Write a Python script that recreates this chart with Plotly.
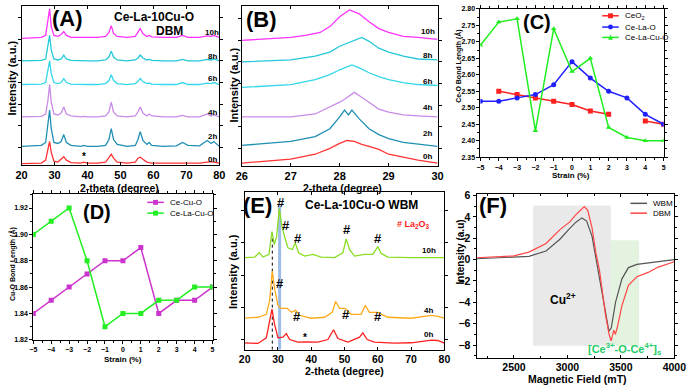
import plotly.graph_objects as go

W, H = 698, 388
FONT = "Liberation Sans"

# ---------------- (A) Ce-La-10Cu-O DBM : stacked XRD patterns
two_theta_a = [20, 23, 26, 27.3, 28.0, 28.5, 29.0, 29.8, 31.0, 32.0, 32.8, 33.6, 35.0, 38.0,
               38.8, 40.0, 43.0, 45.5, 46.5, 47.2, 47.9, 49.0, 52.0, 54.5, 55.3, 56.0, 56.8,
               58.0, 58.7, 59.5, 63.0, 67.0, 68.8, 70.5, 74.0, 76.3, 77.5, 78.3, 80.0]
xrd_a_0h = [1.5, 1.5, 2, 5, 15, 24, 13, 4, 3, 6, 8.5, 5, 2.5, 2, 3, 2, 2, 3, 8, 11, 7, 3, 2, 3,
            7, 8, 6, 3, 2.5, 2, 2, 2, 2.5, 2, 2, 3, 3.5, 3, 2]
xrd_a_2h = [19, 19.5, 20, 23, 40, 56, 37, 23, 22, 24, 31, 23, 20, 19, 20, 19, 19, 20, 26, 37, 26,
            21, 19, 20, 26, 34, 25, 21, 23, 20, 19, 19.5, 23, 20, 19.5, 25, 22, 24, 19]
xrd_a_4h = [49, 49, 49.5, 52, 66, 82, 64, 52, 51, 53, 59, 52, 50, 49, 49.5, 49, 49, 50, 54, 64,
            54, 50, 49, 50, 54, 59, 53, 50, 52, 50, 49, 49, 50.5, 49, 49, 52, 50, 51, 49]
xrd_a_6h = [82, 82, 82.5, 84, 95, 106, 93, 84, 83, 84, 88, 84, 82.5, 82, 82.5, 82, 82, 83, 86,
            92, 86, 83, 82, 83, 85, 88, 85, 83, 83.5, 82.5, 82, 82, 84, 82, 82, 83.5, 83, 84, 82]
xrd_a_8h = [106, 106, 106.5, 108, 120, 132, 117, 108, 107, 108, 112, 108, 106.5, 106, 106.5,
            106, 106, 107, 110, 116, 110, 107, 106, 107, 109, 112, 109, 107, 107.5, 106.5, 106,
            106, 107.5, 106, 106, 107.5, 107, 108, 106]
xrd_a_10h = [129, 129.5, 130, 132, 146, 159, 141, 132, 131, 133, 136, 132, 130, 130, 130.5, 130,
             130, 131, 135, 142, 134, 131, 130, 131, 135, 139, 134, 131, 132, 130.5, 130, 130,
             132, 130, 130, 131.5, 131, 132, 130]

# ---------------- (B) zoom on the (111) reflection
theta_b_0h = [26.0, 27.0, 27.5, 27.8, 28.0, 28.15, 28.3, 28.45, 28.6, 28.8, 29.0, 29.3, 29.6, 30.0]
xrd_b_0h = [3, 7, 12, 18, 23, 26, 25, 22, 20, 17, 12, 9, 6, 3]
theta_b_2h = [26.0, 27.0, 27.5, 27.8, 28.0, 28.1, 28.18, 28.25, 28.4, 28.6, 28.8, 29.0, 29.3, 29.6, 30.0]
xrd_b_2h = [21, 25, 30, 38, 50, 57, 52, 57, 48, 38, 32, 28, 24, 22, 20]
theta_b_4h = [26.0, 27.0, 27.5, 27.8, 28.0, 28.1, 28.3, 28.45, 28.6, 28.8, 29.0, 29.1, 29.3, 29.6, 30.0]
xrd_b_4h = [50, 50, 53, 60, 65, 68, 75, 70, 65, 58, 55, 54, 52, 51, 50]
theta_b_6h = [26.0, 27.0, 27.5, 27.8, 28.0, 28.1, 28.25, 28.4, 28.6, 28.8, 29.0, 29.3, 29.6, 30.0]
xrd_b_6h = [80, 83, 88, 93, 98, 100, 103, 100, 95, 91, 88, 85, 83, 82]
theta_b_8h = [26.0, 27.0, 27.5, 27.8, 28.0, 28.2, 28.45, 28.6, 28.8, 29.0, 29.3, 29.6, 30.0]
xrd_b_8h = [106, 108, 112, 116, 122, 126, 131, 127, 120, 116, 112, 109, 108]
theta_b_10h = [26.0, 27.0, 27.3, 27.6, 27.8, 28.0, 28.2, 28.4, 28.6, 28.8, 29.0, 29.3, 29.6, 30.0]
xrd_b_10h = [128, 131, 133, 136, 142, 152, 159, 155, 147, 140, 136, 132, 131, 129]

# ---------------- (C) Ce-O bond length vs strain
strain = [-5, -4, -3, -2, -1, 0, 1, 2, 3, 4, 5]
ceo_ceo2 = [None, 2.55, 2.54, 2.53, 2.52, 2.51, 2.49, 2.48, None, 2.46, 2.45]
ceo_cela = [2.52, 2.52, 2.53, 2.54, 2.57, 2.64, 2.59, 2.55, 2.53, 2.48, 2.45]
ceo_celacu = [2.69, 2.76, 2.77, 2.43, 2.74, 2.61, 2.65, 2.44, 2.41, 2.40, 2.40]

# ---------------- (D) Cu-O bond length vs strain
cuo_cecu = [1.84, 1.85, 1.86, 1.87, 1.88, 1.88, 1.89, 1.84, 1.85, 1.85, 1.86]
cuo_celacu = [1.90, 1.91, 1.92, 1.88, 1.83, 1.84, 1.84, 1.85, 1.85, 1.86, 1.86]

# ---------------- (E) Ce-La-10Cu-O WBM XRD
theta_e_0h = [20, 24, 26.5, 27.5, 28.2, 28.9, 30, 31.5, 32.5, 33.5, 36, 38.5, 42, 45, 46.7, 48,
              51, 54.5, 55.5, 56.8, 59, 65, 70, 74, 76, 78, 80]
xrd_e_0h = [7, 6.3, 12, 28.7, 41.3, 27, 12, 12.7, 16.3, 10.3, 7.7, 8, 7.7, 10.3, 20.3, 11.3, 7.7,
            12.7, 17, 10.3, 7.7, 6.7, 7, 8.7, 9.7, 9.3, 6.7]
theta_e_4h = [20, 24, 26.5, 27.5, 28.3, 29, 30, 31, 32.8, 34, 35.3, 36.5, 40, 44, 46.3, 47.3,
              48.5, 50.2, 52, 55, 56.2, 57.5, 60, 63, 70, 76, 78, 80]
xrd_e_4h = [32, 33, 36, 50, 80, 62, 45, 42, 42, 38, 40, 35, 32, 33, 38, 49, 42, 42, 36, 36, 45,
            38, 38, 33, 32, 35, 34, 32]
theta_e_10h = [20, 23, 24.4, 25.5, 27.3, 28.2, 28.9, 29.6, 30.4, 31.2, 32.0, 33.0, 34.3, 35.2,
               36.2, 38, 40.5, 43, 47, 49.5, 50.5, 51.5, 53, 56, 58.5, 60, 61, 63, 70, 80]
xrd_e_10h = [93.7, 94.3, 98.7, 94.3, 97, 120.3, 107, 115, 143.7, 125.3, 115, 103.7, 102, 108.7,
             98.7, 95.3, 97, 94.3, 93.7, 98.7, 112.7, 102, 95.3, 97, 97, 105, 98, 94.3, 93.7, 93.7]
la2o3_10h = [(30.8, 150), (32.3, 126), (36.1, 113), (50.7, 122), (60.1, 113)]
la2o3_4h = [(30.5, 67), (35.8, 34), (50.4, 36), (60.1, 34)]

# ---------------- (F) EPR spectra
field_wbm = [2150, 2500, 2640, 2800, 2930, 3020, 3080, 3135, 3180, 3230, 3265, 3300, 3340, 3357,
             3388, 3410, 3450, 3510, 3571, 3650, 3755, 3850, 4000]
epr_wbm = [0.08, 0.2, 0.3, 0.8, 1.9, 2.9, 3.5, 3.9, 3.6, 2.2, 0.2, -1.5, -4.0, -4.9, -6.7, -6.4,
           -4.0, -1.8, -0.75, -0.45, -0.3, -0.15, 0.0]
field_dbm = [2150, 2500, 2640, 2800, 2930, 3020, 3080, 3158, 3190, 3230, 3265, 3300, 3357, 3390,
             3409, 3434, 3449, 3470, 3510, 3571, 3650, 3755, 3850, 4000]
epr_dbm = [0.17, 0.35, 0.7, 1.5, 2.8, 3.5, 4.2, 4.95, 4.6, 3.0, 0.7, -1.0, -5.2, -7.0, -7.6,
           -6.6, -7.0, -6.2, -4.3, -2.4, -1.6, -1.2, -0.7, -0.2]


def dom_x(left, right):
    return [left / W, right / W]


def dom_y(top, bottom):
    return [1 - bottom / H, 1 - top / H]


def axis_style(size=11, **kw):
    style = dict(showline=True, linecolor="black", linewidth=1, mirror="ticks",
                 ticks="outside", ticklen=3, tickcolor="black", showgrid=False,
                 zeroline=False,
                 tickfont=dict(family=FONT, size=size, color="black", weight="bold"))
    style.update(kw)
    return style


fig = go.Figure()

# A
for ys, color in [(xrd_a_0h, "#ff3333"), (xrd_a_2h, "#1f8fb4"), (xrd_a_4h, "#c98be8"),
                  (xrd_a_6h, "#33d6ea"), (xrd_a_8h, "#22c8d8"), (xrd_a_10h, "#ff33ff")]:
    fig.add_trace(go.Scatter(x=two_theta_a, y=ys, mode="lines", line=dict(color=color, width=1.3),
                             showlegend=False, xaxis="x", yaxis="y"))

# B
for ths, ys, color in [(theta_b_0h, xrd_b_0h, "#ff3333"), (theta_b_2h, xrd_b_2h, "#1f8fb4"),
                       (theta_b_4h, xrd_b_4h, "#c98be8"), (theta_b_6h, xrd_b_6h, "#33d6ea"),
                       (theta_b_8h, xrd_b_8h, "#22c8d8"), (theta_b_10h, xrd_b_10h, "#ff33ff")]:
    fig.add_trace(go.Scatter(x=ths, y=ys, mode="lines", line=dict(color=color, width=1.3),
                             showlegend=False, xaxis="x2", yaxis="y2"))

# C
series_c = [("CeO<sub>2</sub>", ceo_ceo2, "#ff2020", "square"),
            ("Ce-La-O", ceo_cela, "#2020ff", "circle"),
            ("Ce-La-Cu-O", ceo_celacu, "#22ee22", "triangle-up")]
for name, ys, color, sym in series_c:
    fig.add_trace(go.Scatter(x=strain, y=ys, name=name, mode="lines+markers",
                             line=dict(color=color, width=1.5),
                             marker=dict(color=color, symbol=sym, size=5),
                             showlegend=False, xaxis="x3", yaxis="y3"))

# D
series_d = [("Ce-Cu-O", cuo_cecu, "#cc33cc", "square"),
            ("Ce-La-Cu-O", cuo_celacu, "#22ee22", "square")]
for name, ys, color, sym in series_d:
    fig.add_trace(go.Scatter(x=strain, y=ys, name=name, mode="lines+markers",
                             line=dict(color=color, width=1.5),
                             marker=dict(color=color, symbol=sym, size=5),
                             showlegend=False, xaxis="x4", yaxis="y4"))

# E
for ths, ys, color in [(theta_e_0h, xrd_e_0h, "#ff2020"), (theta_e_4h, xrd_e_4h, "#ffaa1a"),
                       (theta_e_10h, xrd_e_10h, "#88dd22")]:
    fig.add_trace(go.Scatter(x=ths, y=ys, mode="lines", line=dict(color=color, width=1.3),
                             showlegend=False, xaxis="x5", yaxis="y5"))

# F
series_f = [("WBM", field_wbm, epr_wbm, "#555555"), ("DBM", field_dbm, epr_dbm, "#ff4444")]
for name, xs, ys, color in series_f:
    fig.add_trace(go.Scatter(x=xs, y=ys, name=name, mode="lines",
                             line=dict(color=color, width=1.2), showlegend=False,
                             xaxis="x6", yaxis="y6"))

shapes = [
    dict(type="rect", xref="x6", yref="y6", x0=2678, x1=3407, y0=-8.06, y1=5.07,
         fillcolor="#e9e9e9", line=dict(width=0), layer="below"),
    dict(type="rect", xref="x6", yref="y6", x0=3407, x1=3671, y0=-8.06, y1=1.8,
         fillcolor="#e4f2e0", line=dict(width=0), layer="below"),
    dict(type="line", xref="x5", yref="y5", x0=30.5, x1=30.5, y0=0, y1=147,
         line=dict(color="#9dbce8", width=3), layer="below"),
    dict(type="line", xref="x5", yref="y5", x0=28.3, x1=28.3, y0=0, y1=119,
         line=dict(color="black", width=1, dash="dot"), layer="below"),
]


def note(text, x, y, size, xref="paper", yref="paper", color="black", bold=True,
         xanchor="center", yanchor="middle", **kw):
    if xref == "paper":
        x = x / W
    if yref == "paper":
        y = 1 - y / H
    return dict(text=text, x=x, y=y, xref=xref, yref=yref, showarrow=False,
                xanchor=xanchor, yanchor=yanchor,
                font=dict(family=FONT, size=size, color=color,
                          weight="bold" if bold else "normal"), **kw)


annotations = [
    note("(A)", 63, 15, 22), note("Ce-La-10Cu-O", 152, 13, 12), note("DBM", 168, 28, 12),
    note("(B)", 262, 16, 22), note("(C)", 545, 18, 20), note("(D)", 93, 212, 20),
    note("(E)", 258, 205, 22), note("Ce-La-10Cu-O WBM", 365, 205, 12),
    note("# La<sub>2</sub>O<sub>3</sub>", 418, 225, 9, color="#ff2020"),
    note("(F)", 500, 205, 22),
    note("Cu<sup>2+</sup>", 2961, -3.65, 12, xref="x6", yref="y6"),
    note("[Ce<sup>3+</sup>-O-Ce<sup>4+</sup>]<sub>s</sub>", 3535, -8.4, 11, xref="x6",
         yref="y6", color="#22cc66"),
    note("*", 38.8, 9, 10, xref="x", yref="y"),
    note("*", 38.1, 12, 10, xref="x5", yref="y5"),
    # axis titles
    note("2-theta (degree)", 117, 187, 10.5), note("2-theta (degree)", 345, 187.5, 10.5),
    note("Strain (%)", 580, 175, 8), note("Strain (%)", 120, 362, 8),
    note("2-theta (degree)", 347, 374, 10.5), note("Magnetic Field (mT)", 587, 382, 10.5),
    note("Intensity (a.u.)", 6, 75, 11, textangle=-90),
    note("Intensity (a.u.)", 234, 82, 11, textangle=-90),
    note("Intensity (a.u.)", 233, 272, 11, textangle=-90),
    note("Intensity (a.u)", 466, 252, 10, textangle=-90),
    note("Ce-O Bond Length (Å)", 465, 63, 7, textangle=-90),
    note("Cu-O Bond Length (Å)", 6, 265, 7, textangle=-90),
]

for lab, y in [("10h", 135), ("8h", 111), ("6h", 88), ("4h", 54), ("2h", 29), ("0h", 6)]:
    annotations.append(note(lab, 77.9, y, 8, xref="x", yref="y"))
for lab, y in [("10h", 137), ("8h", 113), ("6h", 86), ("4h", 60), ("2h", 33), ("0h", 10)]:
    annotations.append(note(lab, 29.8, y, 8, xref="x2", yref="y2"))
for lab, y in [("10h", 101), ("4h", 40), ("0h", 15)]:
    annotations.append(note(lab, 75.3, y, 8, xref="x5", yref="y5"))
for x, y in la2o3_10h + la2o3_4h:
    annotations.append(note("#", x, y, 13, xref="x5", yref="y5"))


def legend_entry(text, color, symbol, tx, ty, marker=True):
    """hand-drawn legend row: short line + marker + label, in pixel coords"""
    xl0, xl1 = (tx - 21) / W, (tx - 4) / W
    yc = 1 - ty / H
    shapes.append(dict(type="line", xref="paper", yref="paper", x0=xl0, x1=xl1, y0=yc, y1=yc,
                       line=dict(color=color, width=1.5)))
    if marker:
        xm = (tx - 12.5) / W
        dx, dy = 2.5 / W, 2.5 / H
        if symbol == "triangle-up":
            path = (f"M {xm - dx} {yc - dy} L {xm + dx} {yc - dy} L {xm} {yc + dy * 1.2} Z")
            shapes.append(dict(type="path", xref="paper", yref="paper", path=path,
                               fillcolor=color, line=dict(width=0)))
        else:
            shapes.append(dict(type="circle" if symbol == "circle" else "rect",
                               xref="paper", yref="paper", x0=xm - dx, x1=xm + dx,
                               y0=yc - dy, y1=yc + dy, fillcolor=color, line=dict(width=0)))
    annotations.append(note(text, tx, ty, 8, bold=False, xanchor="left"))


for (name, _, color, sym), ty in zip(series_c, [12, 23.5, 34]):
    legend_entry(name, color, sym, 633, ty)
for (name, _, color, sym), ty in zip(series_d, [202, 213]):
    legend_entry(name, color, sym, 166, ty)
for (name, _, _, color), ty in zip(series_f, [203, 213]):
    legend_entry(name, color, None, 662, ty, marker=False)

x_inside = dict(ticks="inside")

fig.update_layout(
    width=W, height=H, margin=dict(l=0, r=0, t=0, b=0),
    paper_bgcolor="white", plot_bgcolor="white", showlegend=False,
    xaxis=axis_style(domain=dom_x(16, 219), range=[20, 80], dtick=10, anchor="y", **x_inside),
    yaxis=axis_style(domain=dom_y(2, 164), range=[0, 162], tick0=18, dtick=22,
                     showticklabels=False, anchor="x"),
    xaxis2=axis_style(domain=dom_x(242, 443), range=[26, 30], dtick=1, anchor="y2", **x_inside),
    yaxis2=axis_style(domain=dom_y(2, 165), range=[0, 163], tick0=18, dtick=22,
                      showticklabels=False, anchor="x2"),
    xaxis3=axis_style(size=7, domain=dom_x(487, 675), range=[-5, 5], dtick=1, anchor="y3",
                      minor=dict(ticks="outside", ticklen=2, dtick=0.5)),
    yaxis3=axis_style(size=7, domain=dom_y(5, 156), range=[2.35, 2.80], dtick=0.05,
                      tickformat=".2f", anchor="x3",
                      minor=dict(ticks="outside", ticklen=2, dtick=0.025)),
    xaxis4=axis_style(size=7, domain=dom_x(28, 212), range=[-5, 5], dtick=1, anchor="y4",
                      minor=dict(ticks="outside", ticklen=2, dtick=0.5)),
    yaxis4=axis_style(size=7, domain=dom_y(193, 342), range=[1.82, 1.931], dtick=0.02,
                      tickformat=".2f", anchor="x4",
                      minor=dict(ticks="outside", ticklen=2, dtick=0.01)),
    xaxis5=axis_style(size=10.5, domain=dom_x(245, 450), range=[20, 80], dtick=10, anchor="y5",
                      **x_inside),
    yaxis5=axis_style(domain=dom_y(191, 352), range=[0, 161], tick0=10, dtick=33,
                      showticklabels=False, anchor="x5"),
    xaxis6=axis_style(size=10.5, domain=dom_x(483, 686), range=[2150, 4000],
                      tickvals=[2500, 3000, 3500, 4000], anchor="y6",
                      minor=dict(ticks="inside", ticklen=2, dtick=250), **x_inside),
    yaxis6=axis_style(size=10.5, domain=dom_y(193, 360), range=[-9.16, 6.18], dtick=2,
                      anchor="x6", minor=dict(ticks="outside", ticklen=2, dtick=1)),
    shapes=shapes, annotations=annotations,
)

fig.write_html("out.html", config={"displayModeBar": False},
               post_script="document.body.style.margin='0';document.body.style.overflow='hidden';")
